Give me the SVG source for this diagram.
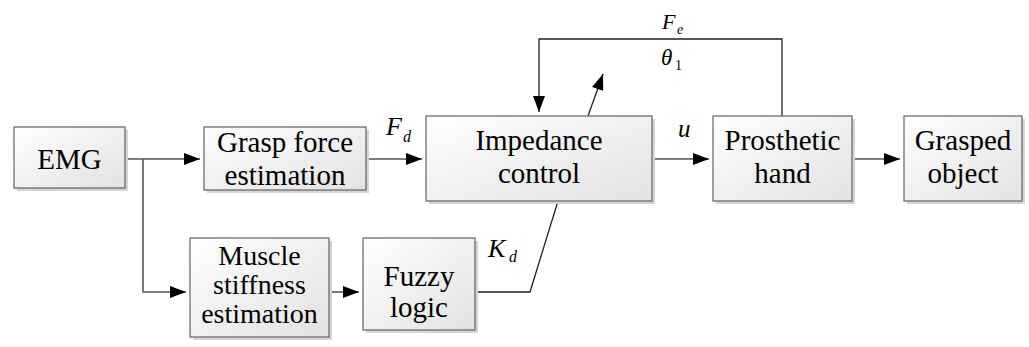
<svg xmlns="http://www.w3.org/2000/svg" width="1029" height="347" viewBox="0 0 1029 347">
<style>
.box{fill:url(#g);stroke:#6e6e6e;stroke-width:1.3}
.sh{fill:#d4d4d4}
.t{font-family:'Liberation Serif','Times New Roman','DejaVu Serif',serif;font-size:29px;fill:#000;text-anchor:middle}
.i{font-family:'Liberation Serif','Times New Roman','DejaVu Serif',serif;font-style:italic;fill:#000}
.n{font-family:'Liberation Serif','Times New Roman','DejaVu Serif',serif;font-style:normal;fill:#000}
.c{fill:none;stroke:#555;stroke-width:1.6}
.k{fill:none;stroke:#222;stroke-width:1.3}
</style>
<defs>
<linearGradient id="g" x1="0" y1="0" x2="1" y2="1">
<stop offset="0" stop-color="#ffffff"/>
<stop offset="1" stop-color="#e2e2e2"/>
</linearGradient>
<marker id="b" viewBox="0 0 16 12" refX="16" refY="6" markerWidth="16" markerHeight="12" markerUnits="userSpaceOnUse" orient="auto">
<path d="M0,0 L16,6 L0,12 z" fill="#000"/>
</marker>
</defs>

<g id="connectors">
<path class="c" d="M125,159 H200" marker-end="url(#b)"/>
<path class="c" d="M143,159 V292 H186" marker-end="url(#b)"/>
<path class="c" d="M366,159 H422" marker-end="url(#b)"/>
<path class="c" d="M329,292 H359" marker-end="url(#b)"/>
<path class="c" d="M652,159 H709" marker-end="url(#b)"/>
<path class="c" d="M852,159 H900" marker-end="url(#b)"/>
<path class="k" d="M782,116 V39 H539 V112" marker-end="url(#b)"/>
<path class="k" d="M475,292 H530 L558,201"/>
<path class="k" d="M588,116 L603,74" marker-end="url(#b)"/>
</g>

<g id="labels">
<text class="i" x="386" y="135" font-size="26">F</text><text class="i" x="403" y="142" font-size="16">d</text>
<text class="i" x="678" y="137" font-size="25">u</text>
<text class="i" x="662" y="29" font-size="22">F</text><text class="i" x="677" y="34" font-size="14">e</text>
<text class="i" x="661" y="65" font-size="23">θ</text><text class="n" x="675" y="70" font-size="14">1</text>
<text class="i" x="488" y="257" font-size="26">K</text><text class="i" x="509" y="262" font-size="16">d</text>
</g>

<g id="emg">
<rect class="sh" x="17" y="130" width="111" height="61"/>
<rect class="box" x="14" y="127" width="111" height="61"/>
<text class="t" x="69.5" y="169">EMG</text>
</g>
<g id="grasp-force">
<rect class="sh" x="207" y="130" width="162" height="63"/>
<rect class="box" x="204" y="127" width="162" height="63"/>
<text class="t" x="285" y="152">Grasp force</text>
<text class="t" x="285" y="185">estimation</text>
</g>
<g id="impedance">
<rect class="sh" x="429" y="119" width="226" height="85"/>
<rect class="box" x="426" y="116" width="226" height="85"/>
<text class="t" x="539" y="150">Impedance</text>
<text class="t" x="539" y="183">control</text>
</g>
<g id="prosthetic">
<rect class="sh" x="716" y="119" width="139" height="85"/>
<rect class="box" x="713" y="116" width="139" height="85"/>
<text class="t" x="782.5" y="150">Prosthetic</text>
<text class="t" x="782.5" y="183">hand</text>
</g>
<g id="grasped">
<rect class="sh" x="907" y="119" width="118" height="85"/>
<rect class="box" x="904" y="116" width="118" height="85"/>
<text class="t" x="963" y="150">Grasped</text>
<text class="t" x="963" y="183">object</text>
</g>
<g id="muscle">
<rect class="sh" x="193" y="241" width="139" height="99"/>
<rect class="box" x="190" y="238" width="139" height="99"/>
<text class="t" x="259.5" y="265" font-size="28" style="font-size:28px">Muscle</text>
<text class="t" x="259.5" y="294" style="font-size:28px">stiffness</text>
<text class="t" x="259.5" y="323" style="font-size:28px">estimation</text>
</g>
<g id="fuzzy">
<rect class="sh" x="366" y="241" width="112" height="92"/>
<rect class="box" x="363" y="238" width="112" height="92"/>
<text class="t" x="419" y="286">Fuzzy</text>
<text class="t" x="419" y="317">logic</text>
</g>
</svg>
